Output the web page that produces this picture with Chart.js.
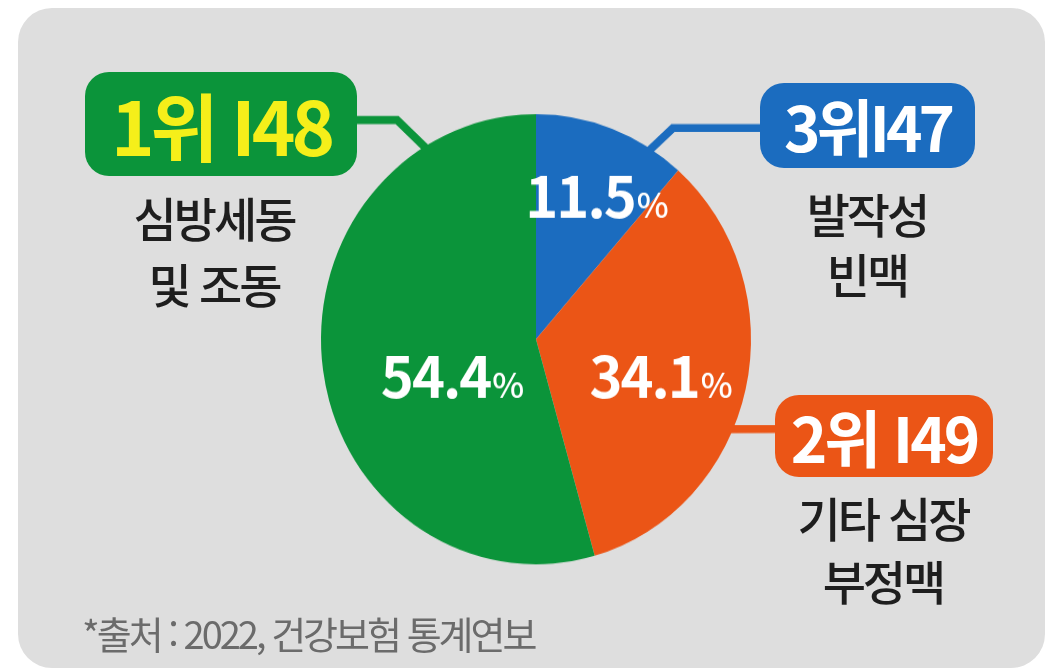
<!DOCTYPE html>
<html lang="ko">
<head>
<meta charset="utf-8">
<script src="https://cdn.jsdelivr.net/npm/chart.js@4.4.1/dist/chart.umd.min.js"></script>
<style>
  html, body { margin: 0; padding: 0; background: #fff; }
  body {
    width: 1051px; height: 669px; position: relative; overflow: hidden;
    font-family: "Noto Sans CJK KR", "Noto Sans", sans-serif;
  }
  .panel {
    position: absolute; left: 18px; top: 8px; width: 1027px; height: 660px;
    background: #dedede; border-radius: 34px;
  }
  .wrap {
    position: absolute; left: 0; top: 0; width: 1051px; height: 639px;
    transform-origin: 0 0;
  }
  .badge {
    position: absolute; display: flex; align-items: center; justify-content: center;
    font-weight: 700; color: #fff; white-space: nowrap;
  }
  .name {
    position: absolute; width: 300px; text-align: center; color: #1e1e1e;
    font-size: 47px; font-weight: 500; letter-spacing: -3px; white-space: nowrap;
  }
  .source {
    position: absolute; left: 82px; top: 612px; line-height: 42px;
    font-size: 38px; letter-spacing: -3px; color: #6b6b6b; white-space: nowrap;
  }
</style>
</head>
<body>
<div class="panel"></div>
<div class="wrap" id="wrap"><canvas id="pieChart" width="1051" height="639"></canvas></div>
<div id="labels"></div>
<div class="source">*출처 : 2022, 건강보험 통계연보</div>

<script>
// 부정맥 질환별 비중 (시계방향, 12시 방향부터)
const slices = ['발작성 빈맥', '기타 심장 부정맥', '심방세동 및 조동'];
const shares = [11.5, 34.1, 54.4];
const colors = ['#1b6cbf', '#eb5516', '#0b943a'];
const badges = ['3위I47', '2위 I49', '1위 I48'];
const names = [['발작성', '빈맥'], ['기타 심장', '부정맥'], ['심방세동', '및 조동']];

// 원본 그림이 세로로 살짝 늘어나 있어서 캔버스를 같은 비율로 늘림
const S = 669 / 639;
document.getElementById('wrap').style.transform = 'scaleY(' + S + ')';

// 라벨 배치
const badgeBox = [
    { left: 760, top: 83, w: 215, h: 85, size: 62, ls: -4, color: '#fff' },
    { left: 775, top: 395, w: 218, h: 82, size: 62, ls: -3, color: '#fff' },
    { left: 85, top: 72, w: 272, h: 104, size: 74, ls: -4, color: '#f5ef1a' },
];
const nameBox = [
    { cx: 867, top: 183, lh: 60 },
    { cx: 883, top: 485, lh: 63 },
    { cx: 214, top: 184, lh: 66 },
];

const labels = document.getElementById('labels');
slices.forEach((s, i) => {
    const b = badgeBox[i];
    const badge = document.createElement('div');
    badge.className = 'badge';
    Object.assign(badge.style, {
        left: b.left + 'px', top: b.top + 'px', width: b.w + 'px', height: b.h + 'px',
        borderRadius: '24px', background: colors[i], color: b.color,
        fontSize: b.size + 'px', letterSpacing: b.ls + 'px', lineHeight: b.h + 'px'
    });
    badge.textContent = badges[i];
    labels.appendChild(badge);

    const n = nameBox[i];
    const name = document.createElement('div');
    name.className = 'name';
    Object.assign(name.style, {
        left: (n.cx - 150) + 'px', top: n.top + 'px', lineHeight: n.lh + 'px'
    });
    name.innerHTML = names[i].join('<br>');
    labels.appendChild(name);
});

// 라벨 상자에서 파이로 이어지는 선 (그림 좌표)
const leaders = [
    { pts: [[770, 128], [673, 128]], angle: -58.7, f: 0.94 },
    { pts: [[785, 429]], angle: 25, f: 0.945 },
    { pts: [[340, 120], [397, 120]], angle: -119, f: 0.88 },
];
// 퍼센트 라벨 위치: 조각 가운데 각도 기준 보정
const pctPlace = [
    { dAngle: 7.1, f: 0.608 },
    { dAngle: 11.5, f: 0.638 },
    { dAngle: -26, f: 0.468 },
];

const toRad = d => d * Math.PI / 180;

const leaderLines = {
    id: 'leaderLines',
    beforeDatasetsDraw(chart) {
        const ctx = chart.ctx;
        const arcs = chart.getDatasetMeta(0).data;
        ctx.save();
        ctx.scale(1, 1 / S);
        arcs.forEach((arc, i) => {
            const cx = arc.x, cy = arc.y * S;
            const rx = arc.outerRadius, ry = arc.outerRadius * S;
            const L = leaders[i];
            ctx.beginPath();
            L.pts.forEach((p, k) => k ? ctx.lineTo(p[0], p[1]) : ctx.moveTo(p[0], p[1]));
            const a = toRad(L.angle);
            ctx.lineTo(cx + rx * L.f * Math.cos(a), cy + ry * L.f * Math.sin(a));
            ctx.strokeStyle = colors[i];
            ctx.lineWidth = 8;
            ctx.lineJoin = 'miter';
            ctx.stroke();
        });
        ctx.restore();
    }
};

const pctLabels = {
    id: 'pctLabels',
    afterDatasetsDraw(chart) {
        const ctx = chart.ctx;
        const arcs = chart.getDatasetMeta(0).data;
        ctx.save();
        ctx.scale(1, 1 / S);
        ctx.fillStyle = '#fff';
        ctx.textBaseline = 'alphabetic';
        ctx.textAlign = 'left';
        arcs.forEach((arc, i) => {
            const cx = arc.x, cy = arc.y * S;
            const rx = arc.outerRadius, ry = arc.outerRadius * S;
            const p = pctPlace[i];
            const a = (arc.startAngle + arc.endAngle) / 2 + toRad(p.dAngle);
            const x = cx + rx * p.f * Math.cos(a);
            const y = cy + ry * p.f * Math.sin(a);
            const num = shares[i].toFixed(1);
            ctx.letterSpacing = '-2px';
            ctx.font = 'bold 56px "Noto Sans CJK KR", "Noto Sans", sans-serif';
            const w1 = ctx.measureText(num).width;
            ctx.letterSpacing = '0px';
            ctx.font = '500 34px "Noto Sans CJK KR", "Noto Sans", sans-serif';
            const w2 = ctx.measureText('%').width;
            const x0 = x - (w1 + w2 + 2) / 2;
            ctx.letterSpacing = '-2px';
            ctx.font = 'bold 56px "Noto Sans CJK KR", "Noto Sans", sans-serif';
            ctx.fillText(num, x0, y);
            ctx.letterSpacing = '0px';
            ctx.font = '500 34px "Noto Sans CJK KR", "Noto Sans", sans-serif';
            ctx.fillText('%', x0 + w1 + 2, y);
        });
        ctx.restore();
    }
};

const ctx = document.getElementById('pieChart').getContext('2d');
new Chart(ctx, {
    type: 'pie',
    data: {
        labels: slices,
        datasets: [{
            data: shares,
            backgroundColor: colors,
            borderWidth: 0,
        }]
    },
    options: {
        responsive: false,
        animation: false,
        events: [],
        layout: { padding: { left: 321, right: 300, top: 109, bottom: 100 } },
        plugins: {
            legend: { display: false },
            tooltip: { enabled: false }
        }
    },
    plugins: [leaderLines, pctLabels]
});
</script>
</body>
</html>
